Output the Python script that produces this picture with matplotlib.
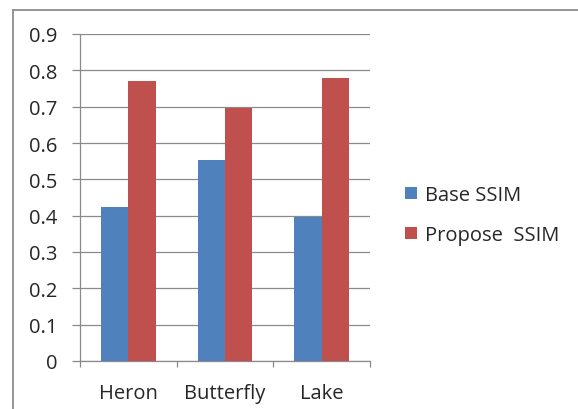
import matplotlib
matplotlib.use("Agg")
import matplotlib.pyplot as plt
from matplotlib.lines import Line2D
import numpy as np

categories = ["Heron", "Butterfly", "Lake"]
base_ssim = [0.425, 0.553, 0.397]
propose_ssim = [0.771, 0.697, 0.778]
series_names = ["Base SSIM", "Propose  SSIM"]
yticks = [0, 0.1, 0.2, 0.3, 0.4, 0.5, 0.6, 0.7, 0.8, 0.9]
ytick_labels = ["0", "0.1", "0.2", "0.3", "0.4", "0.5", "0.6", "0.7", "0.8", "0.9"]

plt.rcParams['font.family'] = ['Open Sans', 'DejaVu Sans']

W, H = 578, 410
fig = plt.figure(figsize=(W / 100, H / 100), dpi=100)
fig.patch.set_facecolor("white")

# outer chart frame (top and left visible)
fig.add_artist(Line2D([13 / W, 13 / W], [0, 1 - 10.5 / H], transform=fig.transFigure,
                      color="#8c8c8c", lw=1.3))
fig.add_artist(Line2D([13 / W, 1], [1 - 10.5 / H, 1 - 10.5 / H], transform=fig.transFigure,
                      color="#8c8c8c", lw=1.3))

ax = fig.add_axes([80 / W, 48 / H, 290 / W, 327 / H])
x = np.arange(len(categories))
bw = 0.283
ax.bar(x - bw / 2, base_ssim, width=bw, color="#4F81BD", zorder=3, label=series_names[0])
ax.bar(x + bw / 2, propose_ssim, width=bw, color="#C0504D", zorder=3, label=series_names[1])

ax.set_xlim(-0.5, 2.5)
ax.set_ylim(0, 0.9)
ax.set_yticks(yticks)
ax.set_yticklabels(ytick_labels)
ax.yaxis.grid(True, color="#8a8a8a", lw=0.9, zorder=0)
ax.set_xticks(x)
ax.set_xticklabels(categories)
ax.set_xticks([-0.5, 0.5, 1.5, 2.5], minor=True)
ax.tick_params(axis="x", which="major", length=0, pad=16, labelsize=14.5, colors="#262626")
ax.tick_params(axis="x", which="minor", length=4.3, color="#8a8a8a", width=0.9)
ax.tick_params(axis="y", length=5.8, color="#8a8a8a", width=0.9, pad=10.5, labelsize=14.5,
               labelcolor="#262626")
for s in ["top", "right"]:
    ax.spines[s].set_visible(False)
for s in ["left", "bottom"]:
    ax.spines[s].set_color("#8a8a8a")
    ax.spines[s].set_linewidth(0.9)

leg = fig.legend(loc="upper left", bbox_to_anchor=(405 / W, 1 - 186 / H), frameon=False,
                 fontsize=14.5, handlelength=0.6, handleheight=0.6, handletextpad=0.4,
                 labelspacing=1.0, borderpad=0, borderaxespad=0, labelcolor="#262626")

fig.savefig("out.png", dpi=100, facecolor="white")
